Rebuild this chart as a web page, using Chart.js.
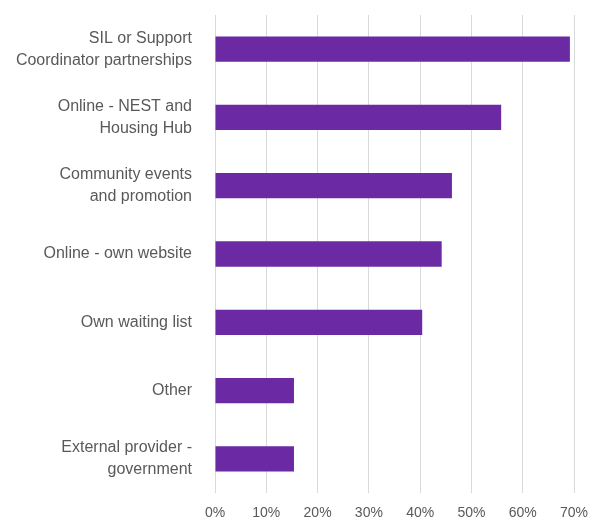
<!DOCTYPE html>
<html>
<head>
<meta charset="utf-8">
<script src="https://cdn.jsdelivr.net/npm/chart.js@4.4.1/dist/chart.umd.min.js"></script>
<style>
  html, body { margin: 0; padding: 0; background: #fff; }
  #wrap { width: 589px; height: 519px; }
</style>
</head>
<body>
<div id="wrap"><canvas id="barChart"></canvas></div>
<script>
// Dados do gráfico
const categories = [
    ['SIL or Support', 'Coordinator partnerships'],
    ['Online - NEST and', 'Housing Hub'],
    ['Community events', 'and promotion'],
    'Online - own website',
    'Own waiting list',
    'Other',
    ['External provider -', 'government']
];
const percentages = [69.2, 55.8, 46.2, 44.2, 40.4, 15.4, 15.4];
const tickValues = [0, 10, 20, 30, 40, 50, 60, 70];

const ctx = document.getElementById('barChart').getContext('2d');
const barChart = new Chart(ctx, {
    type: 'bar',
    data: {
        labels: categories,
        datasets: [{
            data: percentages,
            backgroundColor: '#6b29a4',
            borderWidth: 0,
            barPercentage: 0.74,
            categoryPercentage: 0.5
        }]
    },
    options: {
        indexAxis: 'y',
        responsive: true,
        maintainAspectRatio: false,
        animation: false,
        layout: { padding: { top: 15, right: 15, bottom: 0, left: 0 } },
        plugins: {
            legend: { display: false },
            tooltip: { enabled: false }
        },
        scales: {
            x: {
                min: 0,
                max: 70,
                afterBuildTicks: (scale) => {
                    scale.ticks = tickValues.map(v => ({ value: v }));
                },
                afterFit: (scale) => {
                    scale.height = 26;
                    scale.paddingLeft = 0;
                    scale.paddingRight = 0;
                },
                grid: { color: '#d9d9d9', lineWidth: 1, drawTicks: false },
                border: { display: false },
                ticks: {
                    padding: 12,
                    color: '#595959',
                    font: { family: 'Liberation Sans, Arial', size: 14 },
                    callback: (v) => v + '%'
                }
            },
            y: {
                grid: { display: false, drawTicks: false },
                border: { display: false },
                afterFit: (scale) => {
                    scale.width = 215;
                    scale.paddingTop = 0;
                    scale.paddingBottom = 0;
                },
                ticks: {
                    padding: 23,
                    color: '#595959',
                    font: { family: 'Liberation Sans, Arial', size: 16, lineHeight: 1.375 }
                }
            }
        }
    }
});
</script>
</body>
</html>
